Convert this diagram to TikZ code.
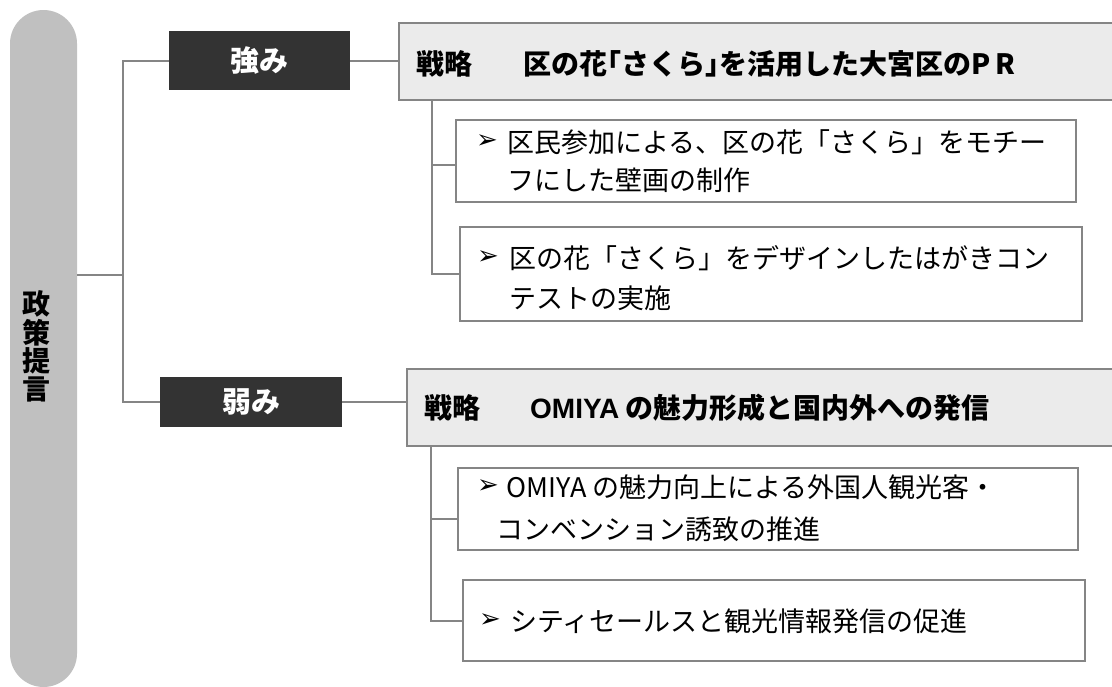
\documentclass[tikz,border=0pt]{standalone}
\usepackage{fontspec}
\newfontfamily\jp{Noto Sans CJK JP}
\newfontfamily\sym{DejaVu Sans}
\newfontfamily\arial{Liberation Sans}
\definecolor{pillgray}{HTML}{C0C0C0}
\definecolor{linegray}{HTML}{858585}
\definecolor{darkbox}{HTML}{333333}
\definecolor{stratfill}{HTML}{EBEBEB}
\begin{document}
\begin{tikzpicture}[x=1pt,y=-1pt,
  conn/.style={draw=linegray,line width=2pt},
  box/.style={anchor=north west,inner sep=0pt,outer sep=0pt},
  tagbox/.style={box,fill=darkbox},
  stratbox/.style={box,fill=stratfill,draw=linegray,line width=2pt},
  itembox/.style={box,fill=white,draw=linegray,line width=2pt},
  tagtext/.style={text=white,font=\jp\bfseries\fontsize{29}{29}\selectfont},
  strattext/.style={anchor=west,inner sep=0pt,font=\jp\bfseries\fontsize{28}{28}\selectfont},
  itemtext/.style={anchor=west,inner sep=0pt,align=left},
  bullet/.style={anchor=west,inner sep=0pt,font=\sym\fontsize{26}{26}\selectfont}
]
\useasboundingbox (0,0) rectangle (1112,686);
% pill
\node[box,fill=pillgray,rounded corners=33.5pt,minimum width=67pt,minimum height=677pt] (pill) at (10,10) {};
\node[inner sep=0pt,align=center,font=\jp\bfseries\fontsize{28}{28.3}\selectfont] (pilltext) at (36,346.5) {政\\策\\提\\言};
% tags
\node[tagbox,minimum width=181pt,minimum height=59pt] (strong) at (169,31) {};
\node[tagtext] (strongt) at (strong.center) {強み};
\node[tagbox,minimum width=182pt,minimum height=50pt] (weak) at (160,377) {};
\node[tagtext] (weakt) at (weak.center) {弱み};
% strategy boxes
\node[stratbox,minimum width=730pt,minimum height=77pt] (s1) at (399,23) {};
\node[strattext] (s1t) at (416,64) {戦略\hspace{51pt}区の花｢さくら｣を活用した大宮区のP\,R};
\node[stratbox,minimum width=720pt,minimum height=77pt] (s2) at (407,369) {};
\node[strattext] (s2t) at (424,408) {戦略\hspace{50pt}{\arial\bfseries OMIYA} の魅力形成と国内外への発信};
% item boxes
\node[itembox,minimum width=620pt,minimum height=82pt] (i1) at (456,120) {};
\node[itembox,minimum width=622pt,minimum height=94pt] (i2) at (460,227) {};
\node[itembox,minimum width=620pt,minimum height=82pt] (i3) at (458,468) {};
\node[itembox,minimum width=622pt,minimum height=81pt] (i4) at (463,580) {};
% item texts
\node[bullet] (b1) at (476,142) {➢};
\node[itemtext,font=\jp\fontsize{27}{38}\selectfont] (t1) at (507,161) {区民参加による、区の花「さくら」をモチー\\フにした壁画の制作};
\node[bullet] (b2) at (477,258) {➢};
\node[itemtext,font=\jp\fontsize{27}{40}\selectfont] (t2) at (509,278) {区の花「さくら」をデザインしたはがきコン\\テストの実施};
\node[bullet] (b3) at (477,487) {➢};
\node[itemtext,font=\jp\fontsize{27}{42}\selectfont] (t3) at (496,508) {\hspace{10pt}OMIYA の魅力向上による外国人観光客・\\コンベンション誘致の推進};
\node[bullet] (b4) at (479,621) {➢};
\node[itemtext,font=\jp\fontsize{27}{27}\selectfont] (t4) at (510,621) {シティセールスと観光情報発信の促進};
% connectors
\coordinate (trunk) at (123,275);
\coordinate (u1) at (432,165);
\coordinate (u2) at (431,519);
\draw[conn] (pill.east |- trunk) -- (trunk);
\draw[conn] (strong.west) -| (trunk |- weak.west) -- (weak.west);
\draw[conn] (strong.east) -- (strong.east -| s1.west);
\draw[conn] (weak.east) -- (weak.east -| s2.west);
\draw[conn] (u1 |- s1.south) |- (i2.west);
\draw[conn] (u1) -- (u1 -| i1.west);
\draw[conn] (u2 |- s2.south) |- (i4.west);
\draw[conn] (u2) -- (u2 -| i3.west);
\end{tikzpicture}
\end{document}
